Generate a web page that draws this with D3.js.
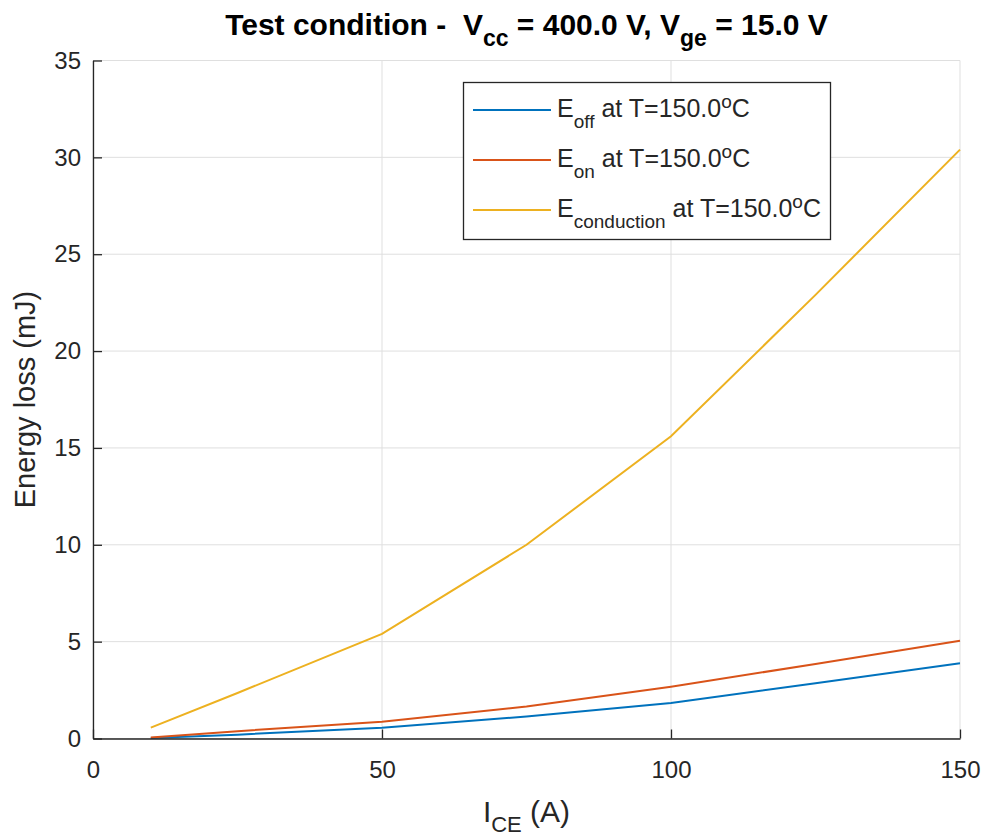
<!DOCTYPE html>
<html><head><meta charset="utf-8">
<script src="https://cdn.jsdelivr.net/npm/d3@7"></script>
<style>
body{margin:0;background:#fff;}
svg{display:block;}
text{font-family:"Liberation Sans",Arial,Helvetica,sans-serif;white-space:pre;}
</style></head>
<body><svg id="chart" width="986" height="837"></svg>
<script>
const currents = [10, 25, 50, 75, 100, 125, 150];
const eOff = [0.02, 0.2, 0.56, 1.13, 1.83, 2.85, 3.88];
const eOn = [0.05, 0.38, 0.87, 1.65, 2.67, 3.85, 5.05];
const eCond = [0.56, 2.35, 5.4, 10.0, 15.6, 22.9, 30.4];
const seriesNames = ["off", "on", "conduction"];
const seriesColors = ["#0072BD", "#D95319", "#EDB120"];
const xTicks = [0, 50, 100, 150];
const yTicks = [0, 5, 10, 15, 20, 25, 30, 35];

const svg = d3.select("#chart");
const L = 93, R = 960, T = 60.5, B = 738.5;
const x = d3.scaleLinear().domain([0, 150]).range([L, R]);
const y = d3.scaleLinear().domain([0, 35]).range([B, T]);
const axisColor = "#262626";

// grid
const g = svg.append("g");
g.selectAll(".vx").data(xTicks).enter().append("line")
  .attr("x1", d => x(d)).attr("x2", d => x(d)).attr("y1", T).attr("y2", B)
  .attr("stroke", "#dfdfdf").attr("stroke-width", 1);
g.selectAll(".hy").data(yTicks).enter().append("line")
  .attr("x1", L).attr("x2", R).attr("y1", d => y(d)).attr("y2", d => y(d))
  .attr("stroke", "#dfdfdf").attr("stroke-width", 1);

// lines
const allSeries = [eOff, eOn, eCond];
const line = d3.line().x((d, i) => x(currents[i])).y(d => y(d));
allSeries.forEach((s, k) => {
  svg.append("path").datum(s).attr("d", line).attr("fill", "none")
    .attr("stroke", seriesColors[k]).attr("stroke-width", 2);
});

// axes
const xAxis = d3.axisBottom(x).tickValues(xTicks).tickSizeInner(-9).tickSizeOuter(0).tickPadding(22);
const yAxis = d3.axisLeft(y).tickValues(yTicks).tickSizeInner(-9).tickSizeOuter(0).tickPadding(12);
const gx = svg.append("g").attr("transform", `translate(0,${B})`).call(xAxis);
const gy = svg.append("g").attr("transform", `translate(${L},0)`).call(yAxis);
[gx, gy].forEach(a => {
  a.select(".domain").attr("stroke", axisColor).attr("stroke-width", 1.3);
  a.selectAll(".tick line").attr("stroke", axisColor).attr("stroke-width", 1.3);
  a.selectAll(".tick text").attr("fill", axisColor).style("font-size", "24px")
    .style("font-family", '"Liberation Sans",Arial,sans-serif');
});

// title
const title = svg.append("text").attr("x", (L + R) / 2).attr("y", 35)
  .attr("text-anchor", "middle").attr("font-weight", "bold").attr("font-size", 30)
  .attr("fill", "#000");
title.append("tspan").text("Test condition -  V");
title.append("tspan").text("cc").attr("font-size", 23).attr("dy", 11);
title.append("tspan").text(" = 400.0 V, V").attr("dy", -11);
title.append("tspan").text("ge").attr("font-size", 23).attr("dy", 11);
title.append("tspan").text(" = 15.0 V").attr("dy", -11);

// y label
svg.append("text").attr("transform", `translate(35,${(T + B) / 2}) rotate(-90)`)
  .attr("text-anchor", "middle").attr("font-size", 29).attr("fill", axisColor)
  .text("Energy loss (mJ)");

// x label
const xl = svg.append("text").attr("x", (L + R) / 2).attr("y", 822)
  .attr("text-anchor", "middle").attr("font-size", 30).attr("fill", axisColor);
xl.append("tspan").text("I");
xl.append("tspan").text("CE").attr("font-size", 22).attr("dy", 10);
xl.append("tspan").text(" (A)").attr("dy", -10);

// legend
const lg = svg.append("g");
lg.append("rect").attr("x", 463.5).attr("y", 82.5).attr("width", 367).attr("height", 157)
  .attr("fill", "#fff").attr("stroke", axisColor).attr("stroke-width", 1.3);
seriesNames.forEach((nm, k) => {
  const yy = 110 + k * 50;
  lg.append("line").attr("x1", 473).attr("x2", 551).attr("y1", yy).attr("y2", yy)
    .attr("stroke", seriesColors[k]).attr("stroke-width", 2);
  const t = lg.append("text").attr("x", 557).attr("y", yy + 7).attr("font-size", 25).attr("fill", axisColor);
  t.append("tspan").text("E");
  t.append("tspan").text(nm).attr("font-size", 19).attr("dy", 11);
  t.append("tspan").text(" at T=150.0").attr("dy", -11);
  t.append("tspan").text("o").attr("font-size", 19).attr("dy", -9);
  t.append("tspan").text("C").attr("dy", 9);
});
</script></body></html>
